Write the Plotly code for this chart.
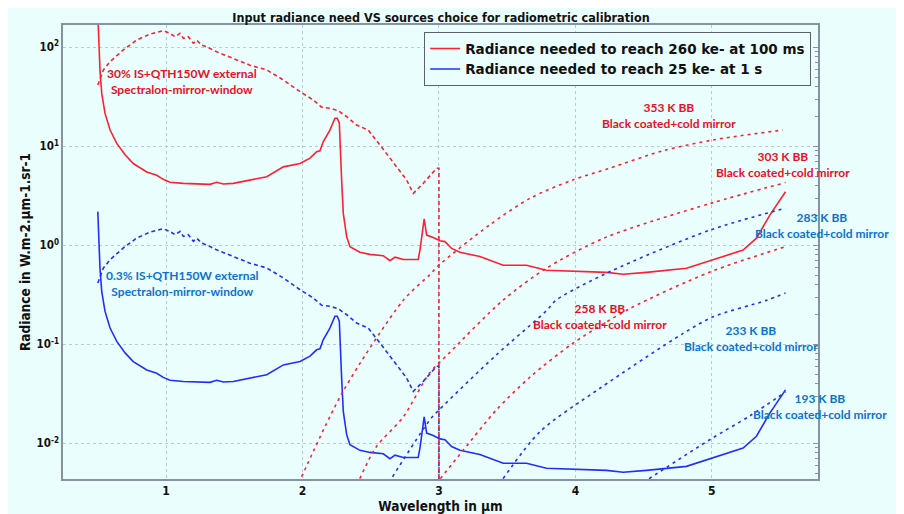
import plotly.graph_objects as go

# ---------------- data ----------------
# Radiance needed to reach 260 ke- at 100 ms (red solid)
wl_need = [0.500, 0.507, 0.516, 0.529, 0.553, 0.590, 0.639, 0.700, 0.760, 0.859, 0.932, 0.980,
           1.029, 1.127, 1.249, 1.322, 1.371, 1.420, 1.493, 1.615, 1.738, 1.860, 1.982, 2.055,
           2.104, 2.128, 2.152, 2.201, 2.238, 2.255, 2.270, 2.287, 2.299, 2.324, 2.348, 2.421,
           2.495, 2.592, 2.641, 2.678, 2.739, 2.848, 2.861, 2.892, 2.910, 2.958, 3.007, 3.044,
           3.093, 3.154, 3.300, 3.471, 3.642, 3.788, 4.033, 4.229, 4.350, 4.521, 4.814, 5.009,
           5.229, 5.327, 5.425, 5.540]
red_need = [219, 97.7, 59, 34, 21.5, 14.6, 10.7, 8.2, 6.7, 5.5, 5.1, 4.64,
            4.33, 4.22, 4.16, 4.13, 4.33, 4.16, 4.22, 4.57, 4.93, 6.2, 6.7, 7.6,
            8.8, 9.0, 11.1, 14.6, 19.2, 19.2, 17.1, 4.57, 2.1, 1.22, 0.97, 0.85,
            0.81, 0.785, 0.70, 0.76, 0.72, 0.72, 0.895, 1.85, 1.27, 1.2, 1.11, 1.09,
            0.93, 0.85, 0.77, 0.63, 0.63, 0.56, 0.54, 0.533, 0.51, 0.533, 0.586, 0.72,
            0.895, 1.18, 2.02, 3.47]
# Radiance needed to reach 25 ke- at 1 s (blue solid)
blue_need = [2.19, 0.977, 0.59, 0.34, 0.215, 0.146, 0.107, 0.082, 0.067, 0.055, 0.051, 0.0464,
             0.0433, 0.0422, 0.0416, 0.0413, 0.0433, 0.0416, 0.0422, 0.0457, 0.0493, 0.062, 0.067, 0.076,
             0.088, 0.090, 0.111, 0.146, 0.192, 0.192, 0.171, 0.0457, 0.021, 0.0122, 0.0097, 0.0085,
             0.0081, 0.00785, 0.0070, 0.0076, 0.0072, 0.0072, 0.00895, 0.0185, 0.0127, 0.012, 0.0111, 0.0109,
             0.0093, 0.0085, 0.0077, 0.0063, 0.0063, 0.0056, 0.0054, 0.00533, 0.0051, 0.00533, 0.00586, 0.0072,
             0.00895, 0.0118, 0.0202, 0.0347]

# Integrating sphere + QTH150W sources (dashed)
wl_qth = [0.500, 0.541, 0.590, 0.687, 0.785, 0.883, 0.980, 1.029, 1.066, 1.103, 1.127, 1.163,
          1.200, 1.225, 1.262, 1.298, 1.371, 1.493, 1.615, 1.738, 1.860, 1.982, 2.079, 2.141,
          2.201, 2.262, 2.324, 2.397, 2.482, 2.568, 2.690, 2.763, 2.812, 2.885, 2.983, 3.000, 3.000]
red_qth = [41.6, 59, 71.6, 94, 118.5, 136, 147, 138, 128, 138, 123, 128,
           110, 118, 105, 101, 90, 77, 66, 59, 46.8, 35.6, 29.4, 24.8,
           24.2, 22.9, 19.9, 16.4, 14.6, 10.3, 6.2, 4.57, 3.35, 4.23, 6.0, 6.0, 0.0001]
blue_qth = [0.416, 0.59, 0.716, 0.94, 1.185, 1.36, 1.47, 1.38, 1.28, 1.38, 1.23, 1.28,
            1.10, 1.18, 1.05, 1.01, 0.90, 0.77, 0.66, 0.59, 0.468, 0.356, 0.294, 0.248,
            0.242, 0.229, 0.199, 0.164, 0.146, 0.103, 0.062, 0.0457, 0.0335, 0.0423, 0.060, 0.060, 0.0001]

# Black bodies (black coated + cold mirror)
wl_353 = [1.994, 2.30, 2.74, 2.93, 3.00, 3.37, 3.67, 3.98, 4.25, 4.64, 5.01, 5.52]
bb_353 = [0.0046, 0.034, 0.28, 0.50, 0.63, 1.6, 3.0, 4.57, 6.0, 9.0, 11.6, 14.6]
wl_303 = [2.42, 2.54, 2.74, 2.93, 3.08, 3.47, 3.79, 4.22, 4.99, 5.54]
bb_303 = [0.0044, 0.0092, 0.0186, 0.051, 0.083, 0.28, 0.59, 1.2, 2.65, 4.3]
wl_258 = [3.01, 3.18, 3.42, 3.67, 3.98, 4.40, 4.99, 5.54]
bb_258 = [0.0044, 0.0086, 0.0217, 0.047, 0.102, 0.23, 0.54, 0.97]
wl_283 = [2.66, 2.93, 3.00, 3.42, 3.79, 3.86, 4.25, 4.99, 5.54]
bb_283 = [0.0046, 0.017, 0.0217, 0.078, 0.22, 0.28, 0.54, 1.43, 2.37]
wl_233 = [3.47, 3.74, 4.18, 4.79, 5.01, 5.40, 5.54]
bb_233 = [0.0044, 0.0131, 0.036, 0.129, 0.19, 0.278, 0.33]
wl_193 = [4.54, 4.99, 5.28, 5.54]
bb_193 = [0.0044, 0.011, 0.019, 0.033]

x_ticks = [1, 2, 3, 4, 5]
y_ticks = [0.01, 0.1, 1, 10, 100]
y_ticktext = ["10<sup>-2</sup>", "10<sup>-1</sup>", "10<sup>0</sup>", "10<sup>1</sup>", "10<sup>2</sup>"]
y_minor = [m * 10.0 ** e for e in range(-3, 3) for m in range(2, 10)]

# ---------------- styling ----------------
RED = "#ff1f2f"
BLUE = "#1f2fff"
RED_TXT = "#e8101e"
BLUE_TXT = "#0a72d2"
BG = "#ebfefe"
Y_RANGE = [-2.36, 2.225]
OFF = 8                      # page body margin in the browser
W, H = 904 - OFF, 514 - OFF
ML, MT, MR, MB = 63 - OFF, 25 - OFF, 86, 35
PW, PH = W - ML - MR, H - MT - MB

fig = go.Figure()

def line(x, y, color, dash="solid", name=None, legend=False, yaxis="y", shape="linear"):
    fig.add_trace(go.Scatter(x=x, y=y, mode="lines", name=name, showlegend=legend,
                             line=dict(color=color, width=1.6, dash=dash, shape=shape,
                                       smoothing=0.8 if shape == "spline" else None),
                             yaxis=yaxis))

line(wl_need, red_need, RED, name="Radiance needed to reach 260 ke- at 100 ms", legend=True)
line(wl_need, blue_need, BLUE, name="Radiance needed to reach 25 ke- at 1 s", legend=True)
line(wl_qth, blue_qth, BLUE, dash="4px,3px")
line(wl_qth, red_qth, RED, dash="4px,3px")
line(wl_353, bb_353, RED, dash="3px,4px", shape="spline")
line(wl_303, bb_303, RED, dash="3px,4px", shape="spline")
line(wl_258, bb_258, RED, dash="3px,4px", shape="spline")
line(wl_283, bb_283, BLUE, dash="3px,4px", shape="spline")
line(wl_233, bb_233, BLUE, dash="3px,4px", shape="spline")
line(wl_193, bb_193, BLUE, dash="3px,4px", yaxis="y2", shape="spline")

ANN_FONT = "Lato, Open Sans, sans-serif"

def px2paper(px, py):
    return (px - OFF - ML) / PW, 1 - (py - OFF - MT) / PH

def note(px, py, text, color):
    # position given as the label's centre in the reference picture (pixels)
    x, y = px2paper(px, py)
    fig.add_annotation(x=x, y=y, xref="paper", yref="paper",
                       text=text, showarrow=False,
                       font=dict(family=ANN_FONT, size=12, color=color, weight="bold"),
                       align="center", xanchor="center", yanchor="middle")

note(182, 82, "30% IS+QTH150W external<br>Spectralon-mirror-window", RED_TXT)
note(182, 283, "0.3% IS+QTH150W external<br>Spectralon-mirror-window", BLUE_TXT)
note(669, 115, "353 K BB<br>Black coated+cold mirror", RED_TXT)
note(783, 164, "303 K BB<br>Black coated+cold mirror", RED_TXT)
note(822, 225, "283 K BB<br>Black coated+cold mirror", BLUE_TXT)
note(600, 316, "258 K BB<br>Black coated+cold mirror", RED_TXT)
note(751, 338, "233 K BB<br>Black coated+cold mirror", BLUE_TXT)
note(820, 406, "193 K BB<br>Black coated+cold mirror", BLUE_TXT)

AX_FONT = "DejaVu Sans Condensed, DejaVu Sans, sans-serif"
LINE_C = "#8592a3"
GRID_C = "#b9c9dd"

lx, ly = px2paper(811, 32)

fig.update_layout(
    width=W, height=H,
    margin=dict(l=ML, r=MR, t=MT, b=MB),
    paper_bgcolor=BG, plot_bgcolor=BG,
    title=dict(text="Input radiance need VS sources choice for radiometric calibration",
               x=(441 - OFF) / W, xanchor="center", y=1 - (18 - OFF) / H, yanchor="middle",
               font=dict(family=AX_FONT, size=12.5, color="#111111", weight="bold")),
    xaxis=dict(range=[0.245, 5.778], tickvals=x_ticks, ticks="", showline=True, mirror=True,
               linecolor=LINE_C, linewidth=1.5, showgrid=True, gridcolor=GRID_C, griddash="dot",
               gridwidth=1, zeroline=False, automargin=False,
               tickfont=dict(family=AX_FONT, size=12, color="#111111", weight="bold"),
               title=dict(text="Wavelength in µm", standoff=0,
                          font=dict(family=AX_FONT, size=13.5, color="#111111", weight="bold"))),
    yaxis=dict(type="log", range=Y_RANGE, tickvals=y_ticks, ticktext=y_ticktext, ticks="",
               showline=True, mirror=True, linecolor=LINE_C, linewidth=1.5, automargin=False,
               showgrid=True, gridcolor=GRID_C, griddash="dot", gridwidth=1, zeroline=False,
               tickfont=dict(family=AX_FONT, size=11.5, color="#111111", weight="bold"),
               title=dict(text="Radiance in W.m-2.µm-1.sr-1", standoff=3,
                          font=dict(family=AX_FONT, size=13.5, color="#111111", weight="bold"))),
    yaxis2=dict(type="log", range=Y_RANGE, overlaying="y", side="right", showticklabels=False,
                tickvals=y_ticks, ticks="inside", ticklen=5, tickcolor=LINE_C, showgrid=False,
                zeroline=False, showline=False, automargin=False,
                minor=dict(tickvals=y_minor, ticks="inside", ticklen=3, tickcolor=LINE_C,
                           showgrid=False)),
    legend=dict(x=lx, xanchor="right", y=ly, yanchor="top",
                bgcolor=BG, bordercolor="#5a6270", borderwidth=1.2,
                font=dict(family="DejaVu Sans, sans-serif", size=13.5, color="#111111", weight="bold"),
                tracegroupgap=0, itemwidth=30),
    showlegend=True,
)

fig.write_html("out.html")
